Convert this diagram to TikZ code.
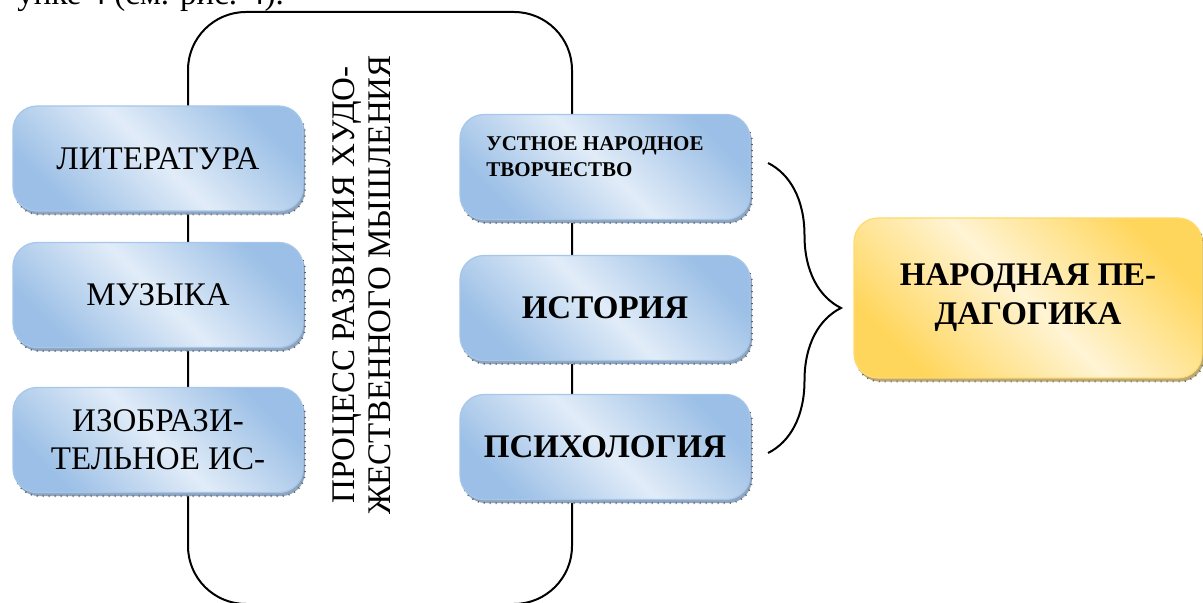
\documentclass[tikz,border=0pt]{standalone}
\usepackage{fontspec}
\setmainfont{Liberation Serif}
\usetikzlibrary{shadows, decorations.pathreplacing}
\definecolor{bluedark}{HTML}{9BBFE6}
\definecolor{bluelight}{HTML}{E1ECF8}
\definecolor{blueedge}{HTML}{A6C6EA}
\definecolor{blueshade}{HTML}{8FA4BE}
\definecolor{golddark}{HTML}{FFD65C}
\definecolor{goldlight}{HTML}{FFF4D4}
\definecolor{goldedge}{HTML}{FFDA6E}
\definecolor{goldshade}{HTML}{BBA877}

\begin{document}
\begin{tikzpicture}[x=0.5pt, y=-0.5pt,
bluebox/.style={draw=blueedge, line width=0.6pt, rounded corners=12pt,
  minimum width=145pt, minimum height=52.5pt, inner sep=0pt,
  top color=bluedark, bottom color=bluedark, middle color=bluelight, shading angle=-45,
  general shadow={shadow xshift=1pt, shadow yshift=-1.8pt, fill=blueshade,
    draw=blueshade!60!black, line width=0.9pt, dash pattern=on 0.5pt off 2.5pt}},
goldbox/.style={draw=goldedge, line width=0.6pt, rounded corners=12pt,
  minimum width=174pt, minimum height=80pt, inner sep=0pt, align=center,
  top color=golddark, bottom color=golddark, middle color=goldlight, shading angle=-45,
  general shadow={shadow xshift=1pt, shadow yshift=-1.8pt, fill=goldshade,
    draw=goldshade!60!black, line width=0.9pt, dash pattern=on 0.5pt off 2.5pt}},
bigtext/.style={font=\fontsize{16.5}{19}\selectfont},
boldtext/.style={font=\fontsize{16.5}{19.5}\selectfont\bfseries}]
\useasboundingbox (0,0) rectangle (1203,603);
\clip (0,0) rectangle (1203,603);
\node[anchor=base east, bigtext] (caption) at (291,5) {унке 4 (см. рис. 4).};
\draw[line width=1pt, rounded corners=29pt] (188,12) rectangle (572,604);
\node[rotate=90, align=center, font=\fontsize{16.5}{18}\selectfont] (process) at (362,285)
  {ПРОЦЕСС РАЗВИТИЯ ХУДО-\\ЖЕСТВЕННОГО МЫШЛЕНИЯ};
\node[bluebox, bigtext] (lit) at (158,158.5) {ЛИТЕРАТУРА};
\node[bluebox, bigtext] (muz) at (158,295) {МУЗЫКА};
\node[bluebox, bigtext, align=center] (izo) at (158,440) {ИЗОБРАЗИ-\\ТЕЛЬНОЕ ИС-};
\node[bluebox] (ust) at (605,167) {};
\node[anchor=north west, inner sep=0pt, align=left,
  font=\fontsize{10.5}{13}\selectfont\bfseries] (usttext) at (486,136)
  {УСТНОЕ НАРОДНОЕ\\ТВОРЧЕСТВО};
\node[bluebox, boldtext] (ist) at (605,308) {ИСТОРИЯ};
\node[bluebox, boldtext] (psy) at (605,447) {ПСИХОЛОГИЯ};
\node[goldbox, boldtext] (ped) at (1028,298) {НАРОДНАЯ ПЕ-\\ДАГОГИКА};
\coordinate (bracetop) at (768,163);
\coordinate (bracebot) at (768,453);
\draw[line width=1pt, decorate, decoration={brace, amplitude=36.5pt}] (bracetop) -- (bracebot);
\end{tikzpicture}
\end{document}
